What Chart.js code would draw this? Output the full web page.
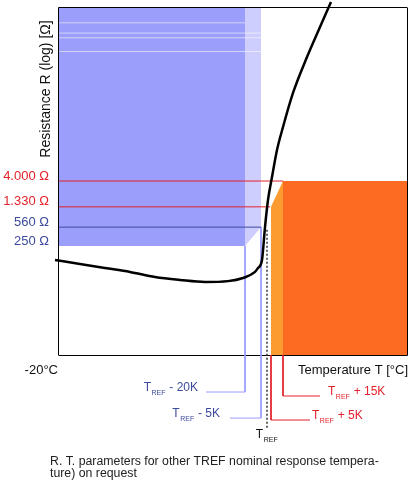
<!DOCTYPE html>
<html>
<head>
<meta charset="utf-8">
<script src="https://cdn.jsdelivr.net/npm/chart.js@4/dist/chart.umd.min.js"></script>
<style>
  html, body { margin: 0; padding: 0; background: #fff; }
  #wrap { width: 411px; height: 489px; }
</style>
</head>
<body>
<div id="wrap"><canvas id="rt"></canvas></div>
<script>
// schematic temperature axis (°C) and resistance on a log axis (Ω)
const tMin = -20, tMax = 154;
const rMin = 2.4, rMax = 6.4e6;

// R(T) characteristic
const curveT = [-22, -9.5, 3, 15.5, 28, 40.5, 53, 64.5, 72, 78, 79.5, 81.5, 83, 84.5, 86.5, 89, 92, 97, 104, 110.5, 116];
const curveR = [138, 116, 98, 83, 67, 59, 54, 56, 64, 83, 98, 138, 562, 1780, 4740, 15000, 40000, 171000, 790000, 2840000, 8300000];

// resistance levels on the left
const levelR = [250, 560, 1330, 4000];
const levelLabels = ['250 Ω', '560 Ω', '1.330 Ω', '4.000 Ω'];
const levelEndT = [null, 81, 85.5, 92];

// TREF marks: TREF-20K, TREF-5K, TREF, TREF+5K, TREF+15K
const markT = [73, 81, 84, 86, 92];
const markText = [' - 20K', ' - 5K', '', ' + 5K', ' + 15K'];
const markStartR = [250, 560, 500, rMin, rMin];
const markEndR = [0.495, 0.163, 0.107, 0.15, 0.418];
const leaderEndT = [53.5, 65.5, null, 105.5, 110.5];

// faint lines inside the blue field
const faintR = [3.4e6, 2.2e6, 1.8e6, 1.0e6];
const faintEndT = [73, 81, 81, 81];

const RED = '#e3222b';
const NAVY = '#3c4a9c';
const BLUE_LINE = '#9a9cff';
const FONT = '"Liberation Sans", Arial, sans-serif';

const datasets = [];

datasets.push({
  data: curveT.map((t, i) => ({ x: t, y: curveR[i] })),
  borderColor: '#000', borderWidth: 2.5, cubicInterpolationMode: 'monotone',
  clip: false, order: 0
});

// level lines
levelR.forEach((r, i) => {
  if (levelEndT[i] === null) return;
  datasets.push({
    data: [{ x: tMin, y: r }, { x: levelEndT[i], y: r }],
    borderColor: r >= 1330 ? RED : NAVY, borderWidth: 1, order: 2
  });
});

// vertical leaders down to the labels
markT.forEach((t, i) => {
  const pts = [{ x: t, y: markStartR[i] }, { x: t, y: markEndR[i] }];
  if (leaderEndT[i] !== null) pts.push({ x: leaderEndT[i], y: markEndR[i] });
  const isTref = i === 2;
  datasets.push({
    data: pts,
    borderColor: isTref ? '#333' : (i < 2 ? BLUE_LINE : RED),
    borderWidth: isTref ? 1.5 : 1,
    borderDash: isTref ? [2, 2] : [],
    clip: false, order: 3
  });
});

faintR.forEach((r, i) => {
  datasets.push({
    data: [{ x: tMin, y: r }, { x: faintEndT[i], y: r }],
    borderColor: 'rgba(255,255,255,0.55)', borderWidth: 1, order: 4
  });
});

// areas
datasets.push({
  data: [{ x: 86, y: 1330 }, { x: 92, y: 4000 }],
  borderWidth: 0, borderColor: 'transparent', backgroundColor: '#fb9b30', fill: 'start', order: 6
});
datasets.push({
  data: [{ x: 92, y: 4000 }, { x: tMax, y: 4000 }],
  borderWidth: 0, borderColor: 'transparent', backgroundColor: '#fd6a21', fill: 'start', order: 6
});
datasets.push({
  data: [{ x: 73, y: 250 }, { x: 81, y: 560 }],
  borderWidth: 0, borderColor: 'transparent', backgroundColor: '#cdcefd', fill: 'end', order: 7
});
datasets.push({
  data: [{ x: tMin, y: 250 }, { x: 73, y: 250 }],
  borderWidth: 0, borderColor: 'transparent', backgroundColor: '#9b9efb', fill: 'end', order: 7
});

function trefLabel(ctx, x, y, suffix, color, align) {
  const big = '12px ' + FONT, small = '7px ' + FONT;
  ctx.font = big;
  const wT = ctx.measureText('T').width;
  const wS = ctx.measureText(suffix).width;
  ctx.font = small;
  const wR = ctx.measureText('REF').width + 1;
  const total = wT + wR + wS;
  const x0 = align === 'right' ? x - total : align === 'center' ? x - total / 2 : x;
  ctx.fillStyle = color;
  ctx.textAlign = 'left';
  ctx.textBaseline = 'middle';
  ctx.font = big;
  ctx.fillText('T', x0, y);
  ctx.font = small;
  ctx.fillText('REF', x0 + wT + 0.5, y + 5);
  ctx.font = big;
  ctx.fillText(suffix, x0 + wT + wR, y);
}

const frame = {
  id: 'frame',
  beforeDatasetsDraw(chart) {
    const { ctx, chartArea: a } = chart;
    ctx.save();
    ctx.strokeStyle = '#000';
    ctx.lineWidth = 1;
    ctx.beginPath();
    ctx.moveTo(a.left, a.bottom + 0.5); ctx.lineTo(a.right + 0.5, a.bottom + 0.5);
    ctx.lineTo(a.right + 0.5, a.top);
    ctx.stroke();
    ctx.restore();
  },
  afterDatasetsDraw(chart) {
    const { ctx, chartArea: a } = chart;
    ctx.save();
    ctx.strokeStyle = '#000';
    ctx.lineWidth = 1;
    ctx.beginPath();
    ctx.moveTo(a.left - 0.5, a.bottom + 0.5); ctx.lineTo(a.left - 0.5, a.top - 0.5);
    ctx.lineTo(a.right + 0.5, a.top - 0.5);
    ctx.stroke();
    ctx.restore();
  },
  afterDraw(chart) {
    const { ctx, chartArea: a } = chart;
    const xs = chart.scales.x, ys = chart.scales.y;
    ctx.save();
    // y title
    ctx.translate(46, 89);
    ctx.rotate(-Math.PI / 2);
    ctx.font = '14px ' + FONT;
    ctx.fillStyle = '#111';
    ctx.textAlign = 'center';
    ctx.textBaseline = 'middle';
    ctx.fillText('Resistance R (log) [Ω]', 0, 0);
    ctx.restore();

    ctx.save();
    ctx.font = '13px ' + FONT;
    ctx.fillStyle = '#111';
    ctx.textBaseline = 'middle';
    ctx.textAlign = 'right';
    ctx.fillText('-20°C', a.left - 1, a.bottom + 15);
    ctx.fillText('Temperature T [°C]', a.right + 1, a.bottom + 15);

    const gap = [8, 10, 0, 2, 8];
    markT.forEach((t, i) => {
      const y = ys.getPixelForValue(markEndR[i]);
      if (i === 2) {
        trefLabel(ctx, xs.getPixelForValue(t), y + 7, '', '#111', 'center');
      } else if (i < 2) {
        trefLabel(ctx, xs.getPixelForValue(leaderEndT[i]) - gap[i], y - 4, markText[i], NAVY, 'right');
      } else {
        trefLabel(ctx, xs.getPixelForValue(leaderEndT[i]) + gap[i], y - 4, markText[i], RED, 'left');
      }
    });

    ctx.font = '12.3px ' + FONT;
    ctx.fillStyle = '#222';
    ctx.textAlign = 'left';
    ctx.fillText('R. T. parameters for other TREF nominal response tempera-', 50, 462);
    ctx.fillText('ture) on request', 50, 474);
    ctx.restore();
  }
};

new Chart(document.getElementById('rt'), {
  type: 'line',
  data: { datasets: datasets },
  options: {
    responsive: true,
    maintainAspectRatio: false,
    animation: false,
    layout: { padding: { top: 8, right: 4, bottom: 134, left: 0 } },
    elements: { point: { radius: 0 }, line: { tension: 0 } },
    plugins: { legend: { display: false }, tooltip: { enabled: false } },
    scales: {
      x: { type: 'linear', min: tMin, max: tMax, bounds: 'data', display: false },
      y: {
        type: 'logarithmic', min: rMin, max: rMax, bounds: 'data',
        grid: { display: false, drawTicks: false },
        border: { display: false },
        afterBuildTicks: axis => { axis.ticks = levelR.map(v => ({ value: v })); },
        afterFit: axis => {
          axis.width = 59;
          axis.paddingTop = 0;
          axis.paddingBottom = 0;
        },
        ticks: {
          padding: 10,
          labelOffset: -5,
          font: { size: 13, family: FONT },
          color: c => (c.tick && c.tick.value >= 1330 ? RED : NAVY),
          callback: v => levelLabels[levelR.indexOf(v)]
        }
      }
    }
  },
  plugins: [frame]
});
</script>
</body>
</html>
